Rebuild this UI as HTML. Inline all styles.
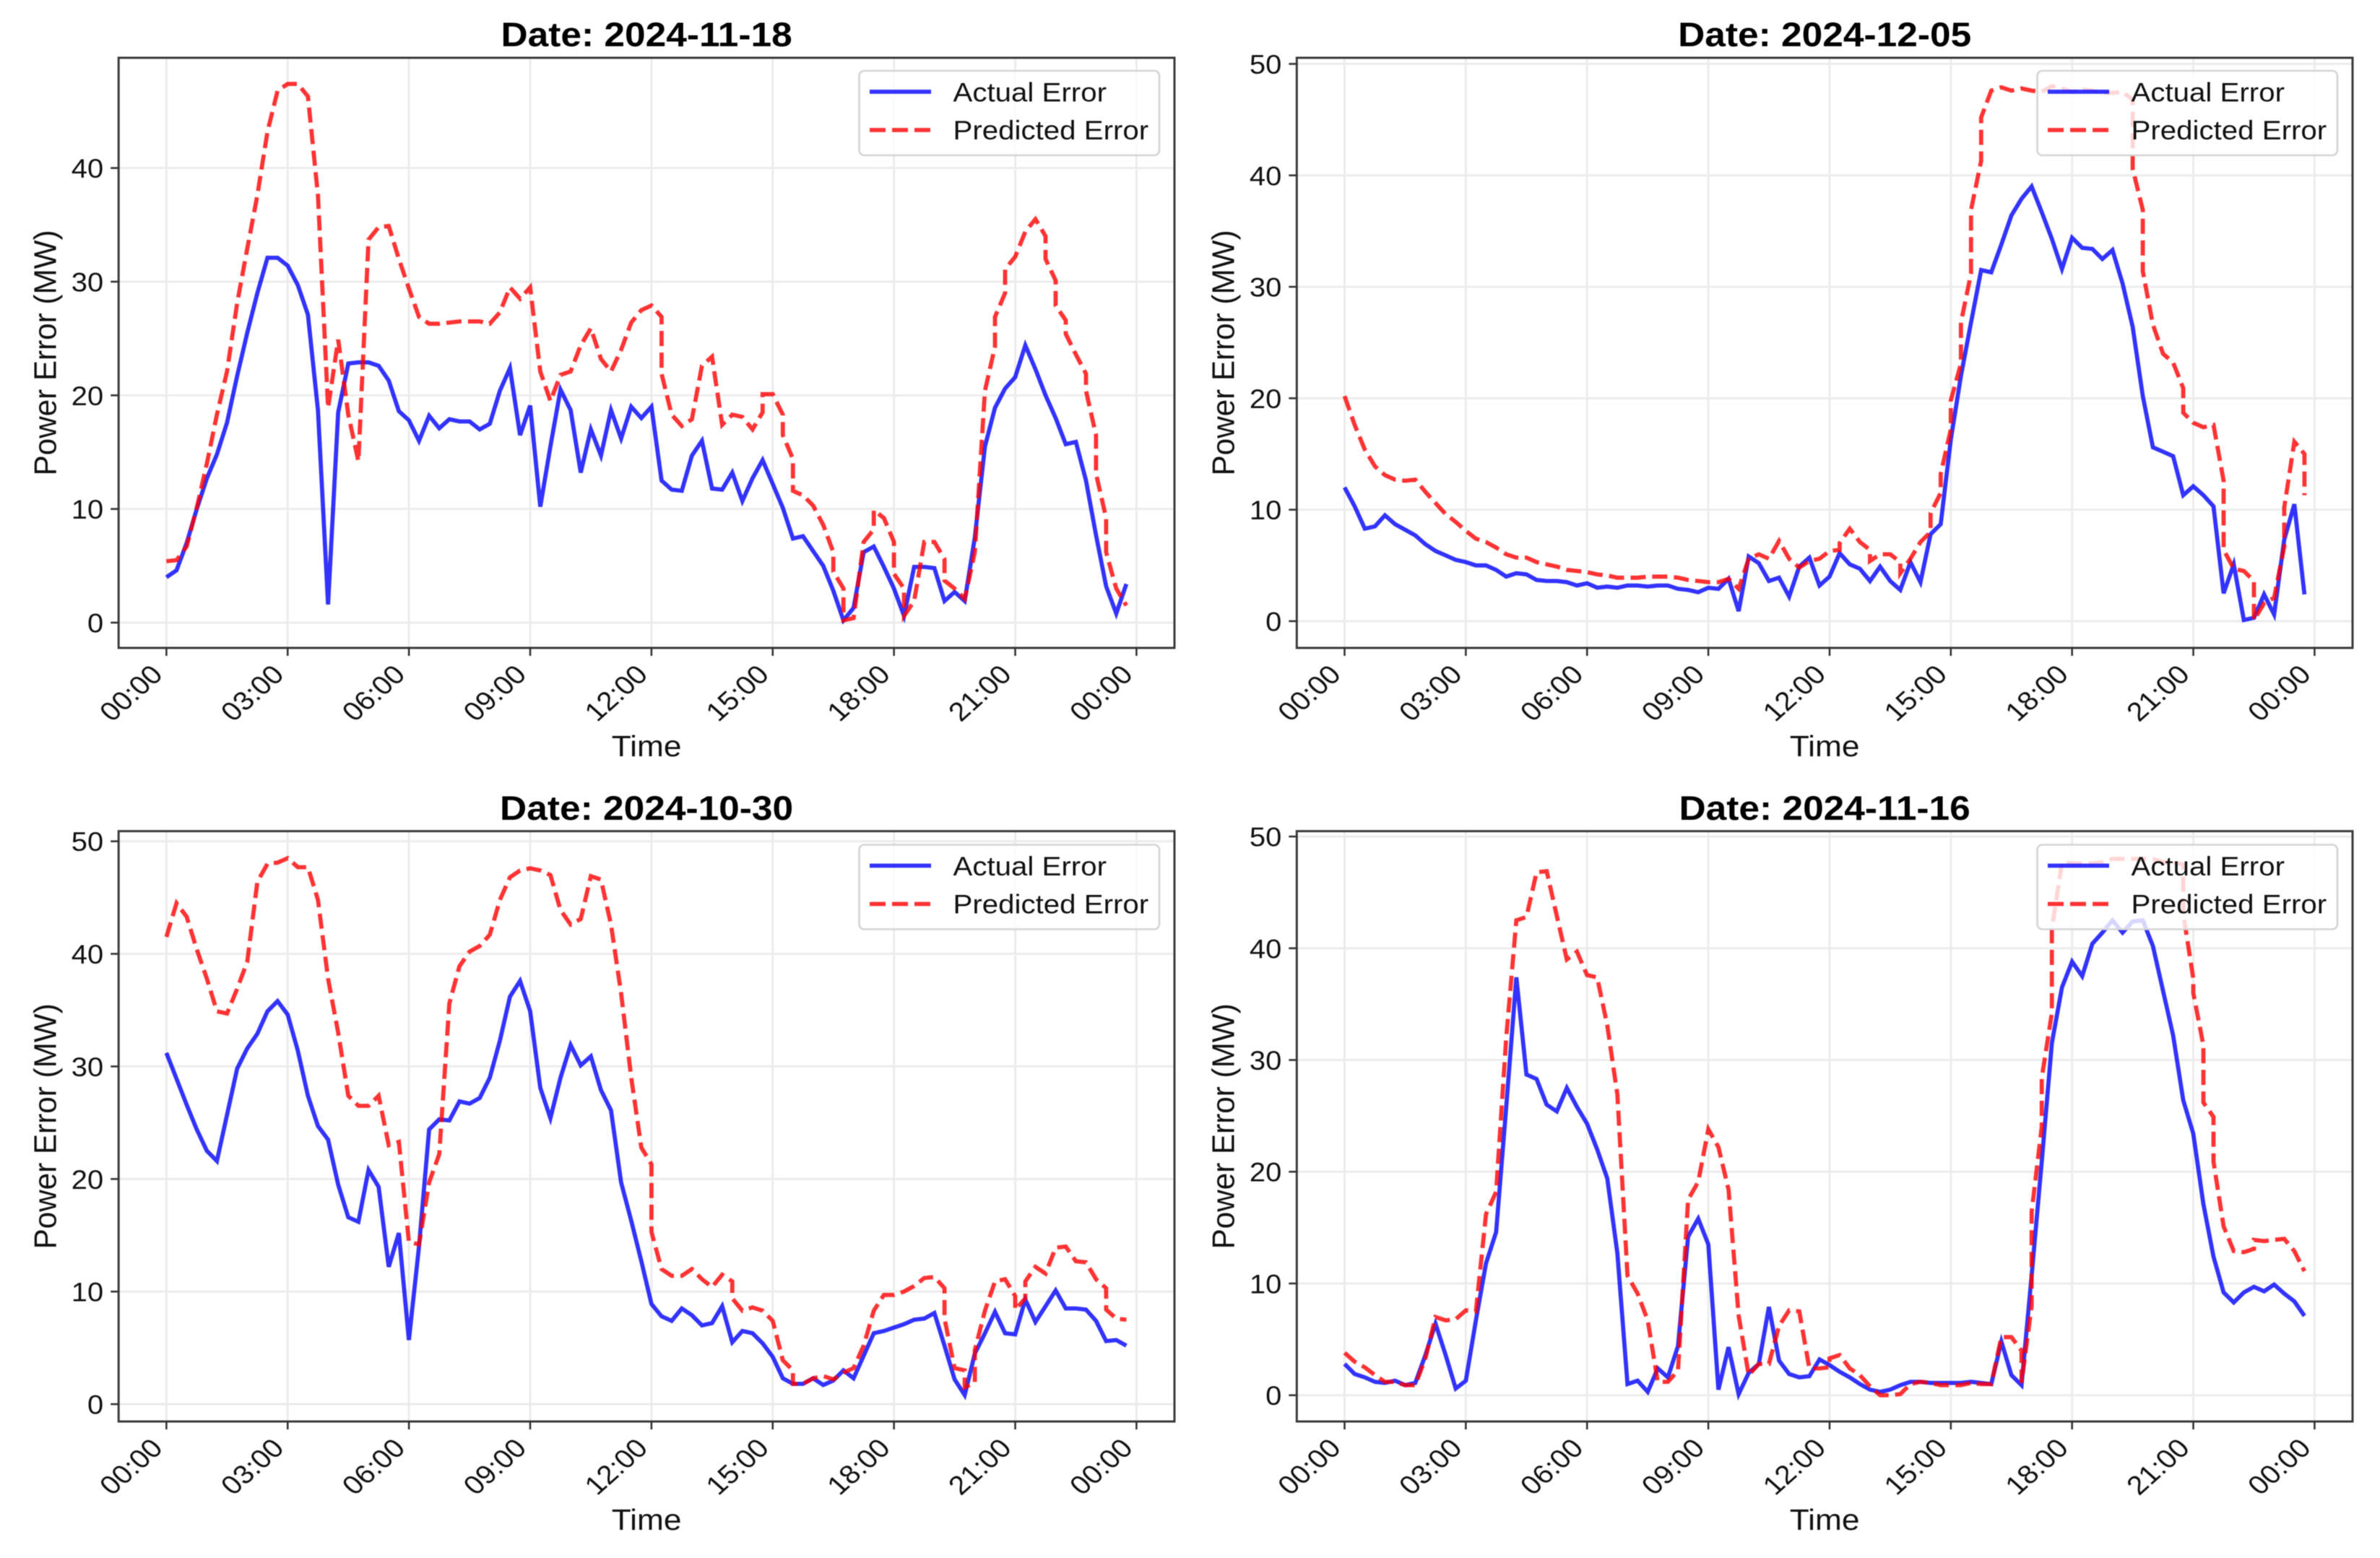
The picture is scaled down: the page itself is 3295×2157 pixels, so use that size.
<!DOCTYPE html>
<html lang="en">
<head>
<meta charset="utf-8">
<title>Actual vs Predicted Power Error</title>
<style>
  html, body { margin: 0; padding: 0; background: #fff; }
  #figure { display: block; width: 3295px; height: 2157px; filter: blur(0.6px); }
  text { font-family: "Liberation Sans", Arial, sans-serif; fill: #111; }
</style>
</head>
<body>
<svg id="figure" xmlns="http://www.w3.org/2000/svg" width="3295" height="2157" viewBox="0 0 3295 2157"></svg>
<script>
// Shared axis data
const hourTicks = [0, 3, 6, 9, 12, 15, 18, 21, 24];
const hourLabels = ['00:00', '03:00', '06:00', '09:00', '12:00', '15:00', '18:00', '21:00', '00:00'];
const xDomain = [-1.183, 24.94];
const valueTicksTall = [0, 10, 20, 30, 40, 50];
const valueTicksShort = [0, 10, 20, 30, 40];

// Panel 1: 2024-11-18
const actual1 = [4,4.6,7,10,12.7,14.8,17.6,21.7,25.5,29,32.1,32.1,31.4,29.7,27.1,18.7,1.6,18.5,22.8,22.9,22.9,22.6,21.3,18.6,17.8,16,18.2,17.1,17.9,17.7,17.7,17,17.5,20.4,22.4,16.5,19.1,10.2,15.5,20.5,18.7,13.2,17,14.7,18.7,16.2,19,18,19,12.5,11.7,11.6,14.7,16,11.8,11.7,13.2,10.7,12.7,14.3,12.2,10.1,7.4,7.6,6.3,5,2.8,0.2,1.3,6.2,6.7,4.9,3,0.6,4.9,4.9,4.8,1.9,2.7,1.9,7.5,15.5,18.9,20.6,21.6,24.4,22.3,20,18,15.7,15.9,12.5,7.7,3.2,0.8,3.4];
const predicted1 = [5.4,5.5,6.7,10.1,14,18.3,22.1,28.1,32.9,37.6,43.2,46.8,47.4,47.4,46.3,37.6,18.9,24.9,18.3,14.2,33.7,34.8,34.9,32,29.4,26.9,26.3,26.3,26.4,26.5,26.5,26.5,26.3,27.3,29.5,28.5,29.5,22.1,19.5,21.8,22.1,24.4,25.9,23.2,22.1,24,26.4,27.5,27.9,26.9,21.9,18.3,17.3,17.9,22.6,23.4,17.4,18.3,18.1,17,18.5,20.1,20.1,18.3,16.5,14.4,11.6,11.2,10.3,8.6,6.2,4.5,3,0.2,0.4,7.1,8.2,9.9,9.2,7.1,4.3,3,0.6,1.9,7.1,7.1,5.6,3.7,3,2.1,6.2,20.4,24.3,26.9,29,31.1,32.2,34.4,35.5,34,32,30.1,27.9,26.6,25.4,23.6,21.9,20.4,16.5,13.1,9.2,6.2,3,1.5];
const predictedTwice1 = [49,59,61,62,66,67,70,72,73,77,82,83,87,88,89,91,92,93];
const yDomain1 = [-2.224, 49.7];

// Panel 2: 2024-12-05
const actual2 = [12,10.3,8.3,8.5,9.5,8.7,8.2,7.7,6.9,6.3,5.9,5.5,5.3,5,5,4.6,4,4.3,4.2,3.7,3.6,3.6,3.5,3.2,3.4,3,3.1,3,3.2,3.2,3.1,3.2,3.2,2.9,2.8,2.6,3,2.9,3.8,0.9,5.8,5.2,3.6,3.9,2.2,4.9,5.7,3.2,4,6.1,5.1,4.7,3.6,4.9,3.6,2.8,5.3,3.5,7.8,8.7,16.3,22,26.8,31.5,31.3,33.8,36.4,37.9,39,36.7,34.3,31.6,34.4,33.5,33.4,32.5,33.3,30.3,26.4,20.2,15.6,15.2,14.8,11.3,12.1,11.3,10.3,2.5,5.1,0.1,0.3,2.4,0.6,7.3,10.5,2.4];
const predicted2 = [20.2,17.6,15.4,13.9,13.1,12.7,12.6,12.7,11.6,10.6,9.6,8.9,8.1,7.4,7.1,6.6,6,5.7,5.7,5.3,5.1,4.9,4.6,4.5,4.4,4.2,4.1,3.9,3.9,3.9,4,4,4,3.9,3.7,3.6,3.5,3.5,3.8,2.9,5.6,6,5.6,7.2,5.6,4.8,5.4,5.6,6.3,6.4,7,8.3,7.1,6.4,5.4,6,6,5.3,4.3,5.6,7.1,8,9.7,11.5,13.2,17.2,19.8,23.1,26.8,31.2,36.9,41.3,45.2,47.6,47.9,47.6,47.8,47.6,47.5,48,47.8,47.5,47.7,47.6,47.4,47.4,47.5,46.8,40.6,36.9,31.4,26.6,24,23.2,20.9,18.7,17.8,17.4,17.6,12.6,6.4,4.7,4.5,3.6,0.1,1.6,2.1,6.7,10.2,16.1,15,11.3];
const predictedTwice2 = [49,52,55,58,59,60,61,62,63,78,79,83,87,90,93,95];
const yDomain2 = [-2.4, 50.55];

// Panel 3: 2024-10-30
const actual3 = [31.2,28.9,26.6,24.4,22.5,21.6,25.7,29.8,31.6,32.9,34.9,35.8,34.6,31.4,27.4,24.7,23.5,19.5,16.6,16.2,20.8,19.3,12.2,15.2,5.7,14,24.4,25.3,25.2,26.9,26.7,27.2,29,32.3,36.2,37.6,34.9,28.1,25.4,29,31.9,30.1,30.9,27.9,26.1,19.7,16.3,12.7,8.9,7.8,7.4,8.5,7.9,7,7.2,8.7,5.5,6.5,6.3,5.4,4.2,2.3,1.8,1.8,2.3,1.7,2.1,3,2.3,4.3,6.3,6.5,6.8,7.1,7.5,7.6,8.1,5.2,2.2,0.8,4.5,6.3,8.2,6.3,6.2,9.3,7.3,8.7,10.1,8.5,8.5,8.4,7.4,5.6,5.7,5.2];
const predicted3 = [41.5,44.5,43.3,40.4,37.8,34.9,34.7,36.9,39.3,46.4,48,48.1,48.5,47.7,47.7,44.8,37.8,33,27.4,26.5,26.5,27.4,23,23.3,14.4,14.2,19.7,22.2,35.6,38.9,40.2,40.7,41.7,44.8,46.8,47.4,47.6,47.4,47,43.9,42.6,43.1,46.9,46.6,42.6,36.5,29,22.8,21.3,15.3,12,11.4,11.4,12,11.1,10.4,11.5,10.9,9.4,8.3,8.6,8.3,7.4,3.9,3,1.8,1.8,2.3,2.5,2.2,2.8,3.2,5.2,8.3,9.7,9.7,10,10.5,11.2,11.3,10.3,7.6,3.2,3,1.5,1.9,4.8,8.3,10.9,11.1,9.6,8.4,9.4,10.9,12.2,11.6,13.9,14,12.7,12.6,11.1,10.3,8.4,7.6,7.5];
const predictedTwice3 = [48,56,62,77,79,80,84,85,93];
const yDomain3 = [-1.54, 50.9];

// Panel 4: 2024-11-16
const actual4 = [2.8,1.9,1.6,1.2,1.1,1.3,0.9,1.1,3.6,6.4,3.6,0.6,1.3,6.7,11.8,14.6,25.8,37.4,28.7,28.3,26,25.4,27.5,25.8,24.3,22,19.4,12.7,1,1.3,0.3,2.4,1.6,4.4,14.2,15.8,13.5,0.5,4.3,0.1,2,2.8,7.9,3.1,1.9,1.6,1.7,3.2,2.7,2.1,1.6,1,0.5,0.3,0.5,0.9,1.2,1.2,1.1,1.1,1.1,1.1,1.2,1.1,1,4.8,1.8,0.9,10.7,20.9,31.5,36.5,38.8,37.5,40.4,41.4,42.5,41.4,42.4,42.5,40.2,36.2,32.2,26.4,23.4,17.1,12.4,9.2,8.3,9.2,9.7,9.3,9.9,9.1,8.4,7.1];
const predicted4 = [3.8,3,2.5,1.8,1.2,1.2,0.9,0.9,3.3,7,6.7,6.8,7.6,7.5,16.2,18.2,32,42.5,42.8,46.8,46.9,42.9,39,39.7,37.6,37.4,33.1,26.9,10.7,9.1,6.7,1.2,1.2,2.2,17.5,19.1,23.8,22.2,18.4,7.1,1.8,2.8,2.8,6.2,7.6,7.5,2.4,2.4,2.5,3.3,3.6,2.4,1.8,0.8,0,0,0.1,1,1.2,1.1,0.9,0.9,0.9,1.1,1,1,5.2,5.2,4,1.1,8,16.4,24,28.4,34.2,41.7,47.7,47.6,47.6,47.6,47.7,48,48,48,48,48,47.7,47.7,47.5,43.1,37.3,36,31.3,26.2,24.9,20.9,15.1,12.9,12.8,13.1,13.9,13.8,13.9,14,12.9,11.1];
const predictedTwice4 = [48,67,68,69,70,83,84,85,86,90];
const yDomain4 = [-2.35, 50.48];

const svg = document.getElementById('figure');
const NS = 'http://www.w3.org/2000/svg';

function make(tag, attrs, parent) {
  const node = document.createElementNS(NS, tag);
  for (const key in attrs) node.setAttribute(key, attrs[key]);
  (parent || svg).appendChild(node);
  return node;
}

function linear(domain, range) {
  return v => range[0] + (v - domain[0]) / (domain[1] - domain[0]) * (range[1] - range[0]);
}

function predictedPoints(values, twice) {
  const pts = [];
  let k = 0;
  for (let slot = 0; slot < 96; slot++) {
    pts.push([slot, values[k++]]);
    if (twice.indexOf(slot) >= 0) pts.push([slot, values[k++]]);
  }
  return pts;
}

function drawPanel(p) {
  const g = make('g', {});
  
  
  const x = linear(xDomain, [p.left, p.right]);
  const y = linear(p.yDomain, [p.bottom, p.top]);
  const midX = (p.left + p.right) / 2;

  // horizontal grid
  p.yTicks.forEach(v => {
    const line = make('line', { x1: p.left, x2: p.right, y1: y(v), y2: y(v), stroke: '#ececec', 'stroke-width': 3 }, g);
    
    
  });
  // vertical grid
  hourTicks.forEach(h => {
    const line = make('line', { x1: x(h), x2: x(h), y1: p.top, y2: p.bottom, stroke: '#ececec', 'stroke-width': 3 }, g);
    
    
  });

  // series
  const actualPath = p.actual.map((v, i) => (i ? 'L' : 'M') + x(i * 0.25).toFixed(1) + ' ' + y(v).toFixed(1)).join('');
  const predictedPath = predictedPoints(p.predicted, p.twice).map((pt, i) => (i ? 'L' : 'M') + x(pt[0] * 0.25).toFixed(1) + ' ' + y(pt[1]).toFixed(1)).join('');
  const blue = make('path', { d: actualPath, fill: 'none', stroke: '#0000ff', 'stroke-opacity': 0.8, 'stroke-width': 5.8, 'stroke-linejoin': 'miter' }, g);
  
  
  const red = make('path', { d: predictedPath, fill: 'none', stroke: '#ff0000', 'stroke-opacity': 0.8, 'stroke-width': 5.8, 'stroke-dasharray': '21 9', 'stroke-linejoin': 'miter' }, g);
  
  

  // frame
  const frame = make('rect', { x: p.left, y: p.top, width: p.right - p.left, height: p.bottom - p.top, fill: 'none', stroke: '#3a3a3a', 'stroke-width': 3 }, g);
  
  

  // y ticks and labels
  p.yTicks.forEach(v => {
    const tick = make('line', { x1: p.left - 11, x2: p.left, y1: y(v), y2: y(v), stroke: '#333', 'stroke-width': 2.6 }, g);
    
    
    const label = make('text', { transform: 'translate(' + (p.left - 21) + ',' + (y(v) + 13.5) + ') scale(1.065,1)', 'text-anchor': 'end', 'font-size': 37.5 }, g);
    label.textContent = String(v);
    
    
  });

  // x ticks and labels
  hourTicks.forEach((h, i) => {
    const tick = make('line', { x1: x(h), x2: x(h), y1: p.bottom, y2: p.bottom + 11, stroke: '#333', 'stroke-width': 2.6 }, g);
    
    
    const label = make('text', { transform: 'translate(' + (x(h) - 3) + ',' + (p.bottom + 39) + ') scale(1.12,1) rotate(-45)', 'text-anchor': 'end', 'font-size': 36.5 }, g);
    label.textContent = hourLabels[i];
    
    
  });

  // titles and axis labels
  const title = make('text', { transform: 'translate(' + midX + ',' + p.titleY + ') scale(1.095,1)', 'text-anchor': 'middle', 'font-size': 47, 'font-weight': 'bold' }, g);
  title.textContent = 'Date: ' + p.date;
  title.style.fill = '#000';
  
  

  const xLabel = make('text', { transform: 'translate(' + midX + ',' + p.xLabelY + ') scale(1.08,1)', 'text-anchor': 'middle', 'font-size': 41 }, g);
  xLabel.textContent = 'Time';
  
  

  const yLabel = make('text', { transform: 'translate(' + p.yLabelX + ',' + ((p.top + p.bottom) / 2) + ') scale(1.07,1.03) rotate(-90)', 'text-anchor': 'middle', 'font-size': 41 }, g);
  yLabel.textContent = 'Power Error (MW)';
  
  

  // legend
  const legend = make('g', {}, g);
  
  
  const box = make('rect', { x: p.legendX, y: p.legendY, width: 415.5, height: 117, rx: 7, ry: 7, fill: '#fff', 'fill-opacity': 0.8, stroke: '#d4d4d4', 'stroke-width': 2.6 }, legend);
  
  
  const lineA = make('line', { x1: p.legendX + 14.5, x2: p.legendX + 99.5, y1: p.legendY + 29, y2: p.legendY + 29, stroke: '#0000ff', 'stroke-opacity': 0.8, 'stroke-width': 5.8 }, legend);
  
  
  const lineP = make('line', { x1: p.legendX + 14.5, x2: p.legendX + 99.5, y1: p.legendY + 82, y2: p.legendY + 82, stroke: '#ff0000', 'stroke-opacity': 0.8, 'stroke-width': 5.8, 'stroke-dasharray': '22 9' }, legend);
  
  
  const textA = make('text', { transform: 'translate(' + (p.legendX + 130) + ',' + (p.legendY + 42.5) + ') scale(1.088,1)', 'font-size': 37 }, legend);
  textA.textContent = 'Actual Error';
  
  
  const textP = make('text', { transform: 'translate(' + (p.legendX + 130) + ',' + (p.legendY + 95) + ') scale(1.088,1)', 'font-size': 37 }, legend);
  textP.textContent = 'Predicted Error';
  
  
}

drawPanel({ date: '2024-11-18', actual: actual1, predicted: predicted1, twice: predictedTwice1, yDomain: yDomain1, yTicks: valueTicksShort,
  left: 164.2, right: 1626, top: 80, bottom: 897, titleY: 64, xLabelY: 1047, yLabelX: 77.5, legendX: 1189.5, legendY: 98 });
drawPanel({ date: '2024-12-05', actual: actual2, predicted: predicted2, twice: predictedTwice2, yDomain: yDomain2, yTicks: valueTicksTall,
  left: 1795.3, right: 3257, top: 80, bottom: 897, titleY: 64, xLabelY: 1047, yLabelX: 1708.5, legendX: 2820.5, legendY: 98 });
drawPanel({ date: '2024-10-30', actual: actual3, predicted: predicted3, twice: predictedTwice3, yDomain: yDomain3, yTicks: valueTicksTall,
  left: 164.2, right: 1626, top: 1150.7, bottom: 1968, titleY: 1135, xLabelY: 2118, yLabelX: 77.5, legendX: 1189.5, legendY: 1169.5 });
drawPanel({ date: '2024-11-16', actual: actual4, predicted: predicted4, twice: predictedTwice4, yDomain: yDomain4, yTicks: valueTicksTall,
  left: 1795.3, right: 3257, top: 1150.7, bottom: 1968, titleY: 1135, xLabelY: 2118, yLabelX: 1708.5, legendX: 2820.5, legendY: 1169.5 });
</script>
</body>
</html>
